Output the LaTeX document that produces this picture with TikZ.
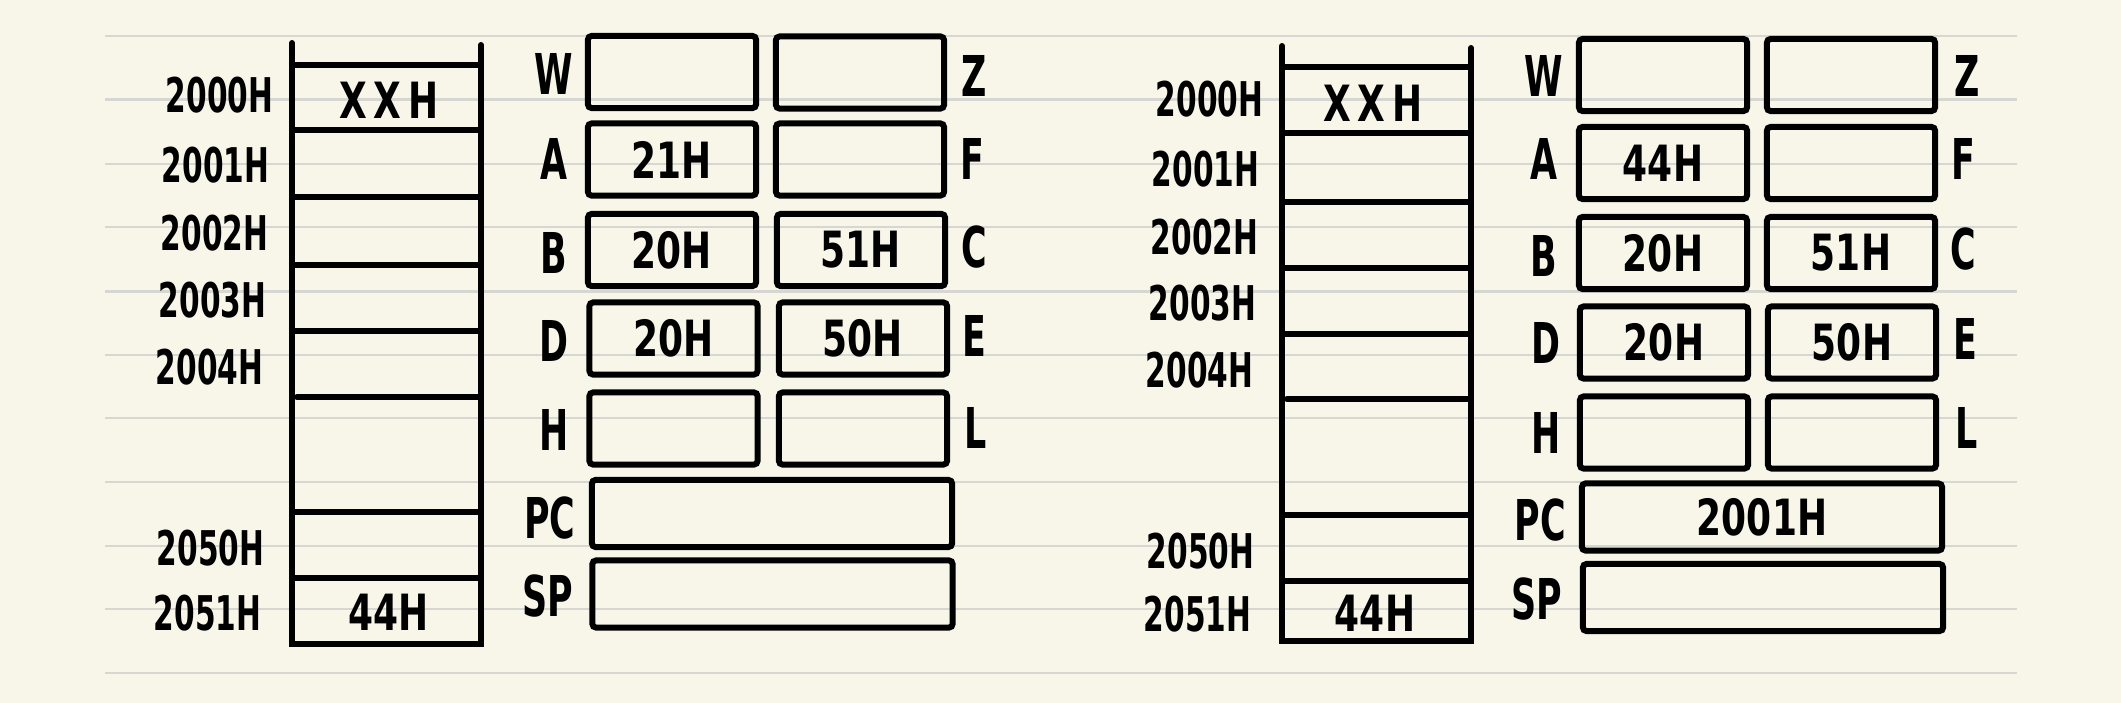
\documentclass[tikz,border=0pt]{standalone}
\usepackage{fontspec}
\usepackage{xcolor}
\usepackage{tikz}
\usetikzlibrary{positioning}

\newfontfamily\handfont{DejaVu Sans}[FakeStretch=0.72]
\newfontfamily\tallfont{DejaVu Sans}[FakeStretch=0.62]
\definecolor{paper}{RGB}{248,246,233}
\definecolor{ruleline}{RGB}{214,214,210}

\begin{document}
\begin{tikzpicture}[
    x=0.01cm, y=-0.01cm,
    every node/.style={inner sep=0pt},
    ruling/.style={draw=ruleline, line width=0.6pt},
    memline/.style={line width=1.7pt, line cap=round},
    addr/.style={anchor=east, font=\tallfont\bfseries\fontsize{13.6}{15}\selectfont},
    regname/.style={font=\tallfont\bfseries\fontsize{16}{18}\selectfont},
    value/.style={font=\handfont\bfseries\fontsize{14.2}{16}\selectfont},
    reg/.style={draw, line width=1.7pt, rounded corners=1pt, minimum width=1.68cm,
        minimum height=0.72cm, value},
    widereg/.style={reg, minimum width=3.6cm, minimum height=0.67cm}
]

% paper and ruled lines
\fill[paper] (0,0) rectangle (2121,703);
\useasboundingbox (0,0) rectangle (2121,703);
\draw[ruling] (105,36) -- (2017,36)   (105,99.5) -- (2017,99.5)
    (105,164) -- (2017,164)  (105,227) -- (2017,227)
    (105,291.5) -- (2017,291.5)  (105,355) -- (2017,355)
    (105,418) -- (2017,418)  (105,482) -- (2017,482)
    (105,546) -- (2017,546)  (105,609) -- (2017,609)
    (105,673) -- (2017,673);

% Left panel: memory
\draw[memline] (292,43) -- (292,644) -- (481,644) -- (481,45);
\draw[memline] (292,65) -- (481,65)   (292,130) -- (481,130)
    (292,197) -- (481,197)  (292,265) -- (481,265)
    (292,331) -- (481,331)  (297,397) -- (481,397)
    (292,512) -- (481,512)  (292,578) -- (481,578);

\node[addr] (m2000) at (274,95) {2000H};
\node[addr] (m2001) at (270,165) {2001H};
\node[addr] (m2002) at (269,233) {2002H};
\node[addr] (m2003) at (267,300) {2003H};
\node[addr] (m2004) at (264,367) {2004H};
\node[addr] (m2050) at (265,548) {2050H};
\node[addr] (m2051) at (262,613) {2051H};

\node[value] (c2000) at (389,100) {X\kern2pt X\kern2pt H};
\node[value] (c2051) at (389,612) {44H};

% Left panel: registers
\node[reg] (W) at (672,72) {};
\node[reg] (Z) at (860,72.5) {};
\node[reg] (A) at (672,159.5) {21H};
\node[reg] (F) at (860,159.5) {};
\node[reg] (B) at (672,250) {20H};
\node[reg] (C) at (861,250) {51H};
\node[reg] (D) at (673.5,338.5) {20H};
\node[reg] (E) at (863,338.5) {50H};
\node[reg] (H) at (673.5,428.5) {};
\node[reg] (L) at (863,428.5) {};
\node[widereg] (PC) at (772,513.5) {};
\node[widereg] (SP) at (772.5,594) {};

\node[regname] (nW) at (554,74) {W};
\node[regname] (nZ) at (974,76) {Z};
\node[regname] (nA) at (554,159) {A};
\node[regname] (nF) at (972,159) {F};
\node[regname] (nB) at (554,253) {B};
\node[regname] (nC) at (974,247) {C};
\node[regname] (nD) at (554,341) {D};
\node[regname] (nE) at (974,336) {E};
\node[regname] (nH) at (554,430) {H};
\node[regname] (nL) at (976,428) {L};
\node[regname] (nPC) at (550,518) {PC};
\node[regname] (nSP) at (548,596) {SP};

% Right panel: after the instruction
\begin{scope}[shift={(990,3)}]
\draw[memline] (292,43) -- (292,638) -- (481,638) -- (481,45);
\draw[memline] (292,64) -- (481,64)   (292,130) -- (481,130)
    (292,199) -- (481,199)  (292,265) -- (481,265)
    (292,331) -- (481,331)  (297,396) -- (481,396)
    (292,512) -- (481,512)  (292,578) -- (481,578);

\node[addr] (r2000) at (274,96) {2000H};
\node[addr] (r2001) at (270,166) {2001H};
\node[addr] (r2002) at (269,234) {2002H};
\node[addr] (r2003) at (267,300) {2003H};
\node[addr] (r2004) at (264,367) {2004H};
\node[addr] (r2050) at (265,548) {2050H};
\node[addr] (r2051) at (262,611) {2051H};

\node[value] (d2000) at (383,100) {X\kern2pt X\kern2pt H};
\node[value] (d2051) at (385,610) {44H};

\node[reg] (W') at (673,72) {};
\node[reg] (Z') at (861,72) {};
\node[reg] (A') at (673,160) {44H};
\node[reg] (F') at (861,160) {};
\node[reg] (B') at (673,250) {20H};
\node[reg] (C') at (861,250) {51H};
\node[reg] (D') at (674,339.5) {20H};
\node[reg] (E') at (862,339.5) {50H};
\node[reg] (H') at (674,429.5) {};
\node[reg] (L') at (862,429.5) {};
\node[widereg] (PC') at (772,514) {2001H};
\node[widereg] (SP') at (773,594.5) {};

\node[regname] (nW') at (554,73) {W};
\node[regname] (nZ') at (977,73) {Z};
\node[regname] (nA') at (554,156) {A};
\node[regname] (nF') at (973,156) {F};
\node[regname] (nB') at (554,253) {B};
\node[regname] (nC') at (973,246) {C};
\node[regname] (nD') at (556,340) {D};
\node[regname] (nE') at (975,336) {E};
\node[regname] (nH') at (556,430) {H};
\node[regname] (nL') at (977,425) {L};
\node[regname] (nPC') at (550,517) {PC};
\node[regname] (nSP') at (547,596) {SP};
\end{scope}

\end{tikzpicture}
\end{document}
